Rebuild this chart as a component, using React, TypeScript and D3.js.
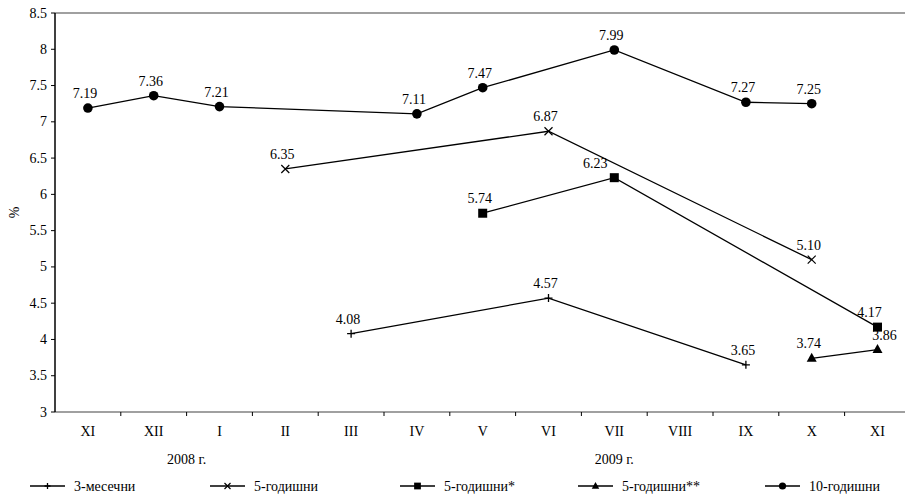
import * as d3 from "d3";

const months = ["XI", "XII", "I", "II", "III", "IV", "V", "VI", "VII", "VIII", "IX", "X", "XI"];
const keys = months.map((m, i) => m + "_" + i);

// [month index, value]
const m3: [number, number][] = [[4, 4.08], [7, 4.57], [10, 3.65]];
const y5: [number, number][] = [[3, 6.35], [7, 6.87], [11, 5.1]];
const y5s: [number, number][] = [[6, 5.74], [8, 6.23], [12, 4.17]];
const y5ss: [number, number][] = [[11, 3.74], [12, 3.86]];
const y10: [number, number][] = [[0, 7.19], [1, 7.36], [2, 7.21], [5, 7.11], [6, 7.47], [8, 7.99], [10, 7.27], [11, 7.25]];

const seriesNames = ["3-месечни", "5-годишни", "5-годишни*", "5-годишни**", "10-годишни"];
const seriesData = [m3, y5, y5s, y5ss, y10];
const markers = ["plus", "cross", "square", "triangle", "circle"];
const yTicks = [3, 3.5, 4, 4.5, 5, 5.5, 6, 6.5, 7, 7.5, 8, 8.5];
const years = [{ label: "2008 г.", at: 1.5 }, { label: "2009 г.", at: 8 }];

const W = 905;
const H = 497;
const left = 55;
const top = 13;
const bottom = 412;

const x = d3.scaleBand<string>().domain(keys).range([left, left + 65.8 * 13]);
const y = d3.scaleLinear().domain([3, 8.5]).range([bottom, top]);
const cx = (i: number) => (x(keys[i]) as number) + x.bandwidth() / 2;

const fmt = (v: number) => v.toFixed(2);

// label nudges (series-point) where the original moved them
const labelDx: Record<string, number> = { "2-1": -16, "2-2": -5, "3-1": 10 };

function Marker({ type, px, py, k = 1 }: { type: string; px: number; py: number; k?: number }) {
  if (type === "plus")
    return <path d={`M${px - 4 * k},${py}H${px + 4 * k}M${px},${py - 4 * k}V${py + 4 * k}`} stroke="#000" strokeWidth={1.3} />;
  if (type === "cross")
    return (
      <path
        d={`M${px - 4 * k},${py - 4 * k}L${px + 4 * k},${py + 4 * k}M${px - 4 * k},${py + 4 * k}L${px + 4 * k},${py - 4 * k}`}
        stroke="#000"
        strokeWidth={1.2}
      />
    );
  if (type === "square") return <rect x={px - 4.5 * k} y={py - 4.5 * k} width={9 * k} height={9 * k} fill="#000" />;
  if (type === "triangle")
    return <path d={`M${px},${py - 5.5 * k}L${px + 5 * k},${py + 3.5 * k}L${px - 5 * k},${py + 3.5 * k}Z`} fill="#000" />;
  return <circle cx={px} cy={py} r={4.8 * k} fill="#000" />;
}

const legendX = [30, 210, 400, 578, 765];
const font = "'Liberation Serif', 'Times New Roman', Times, serif";

export default function App() {
  const line = d3
    .line<[number, number]>()
    .x((d) => cx(d[0]))
    .y((d) => y(d[1]));
  return (
    <svg width={W} height={H} style={{ position: "absolute", left: 0, top: 0, fontFamily: font }}>
      <line x1={left} x2={W} y1={top} y2={top} stroke="#808080" strokeWidth={1.5} />
      <line x1={left} x2={W} y1={bottom} y2={bottom} stroke="#808080" strokeWidth={1.5} />
      <line x1={left} x2={left} y1={top} y2={bottom} stroke="#000" strokeWidth={1.5} />
      {yTicks.map((t) => (
        <g key={t}>
          <line x1={left - 4} x2={left} y1={y(t)} y2={y(t)} stroke="#000" />
          <text x={left - 8} y={y(t) + 4.5} textAnchor="end" fontSize={14}>
            {t}
          </text>
        </g>
      ))}
      <text transform={`translate(19,${(top + bottom) / 2}) rotate(-90)`} textAnchor="middle" fontSize={14}>
        %
      </text>
      {keys.map((k, i) => (
        <g key={k}>
          {i > 0 && <line x1={x(k)} x2={x(k)} y1={bottom} y2={bottom + 4} stroke="#000" />}
          <text x={cx(i)} y={bottom + 24} textAnchor="middle" fontSize={14}>
            {months[i]}
          </text>
        </g>
      ))}
      {years.map((yr) => (
        <text key={yr.label} x={(x(keys[0]) as number) + x.bandwidth() * (yr.at + 0.5)} y={bottom + 52} textAnchor="middle" fontSize={14}>
          {yr.label}
        </text>
      ))}
      {seriesData.map((s, si) => (
        <g key={si}>
          <path d={line(s) || ""} fill="none" stroke="#000" strokeWidth={1.3} />
          {s.map((d, j) => (
            <g key={j}>
              <Marker type={markers[si]} px={cx(d[0])} py={y(d[1])} />
              <text x={cx(d[0]) - 3 + (labelDx[si + "-" + j] ?? 0)} y={y(d[1]) - 10} textAnchor="middle" fontSize={14}>
                {fmt(d[1])}
              </text>
            </g>
          ))}
        </g>
      ))}
      {seriesNames.map((n, i) => (
        <g key={n}>
          <line x1={legendX[i]} x2={legendX[i] + 35} y1={H - 11} y2={H - 11} stroke="#000" strokeWidth={1.3} />
          <Marker type={markers[i]} px={legendX[i] + 17.5} py={H - 11} k={0.75} />
          <text x={legendX[i] + 44} y={H - 6.5} fontSize={14}>
            {n}
          </text>
        </g>
      ))}
    </svg>
  );
}
